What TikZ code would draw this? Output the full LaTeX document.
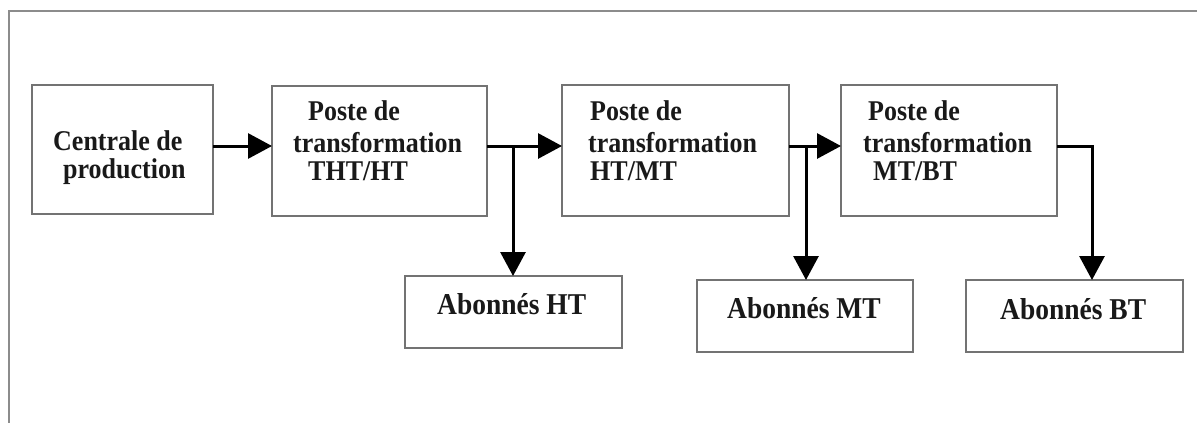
\documentclass[tikz,border=0pt]{standalone}
\usepackage{fontspec}
\usepackage{graphicx}
\setmainfont{Liberation Serif}
\usetikzlibrary{arrows.meta}
\newcommand{\tallt}[1]{\scalebox{1}[1.1]{#1}}
\tikzset{
  box/.style={draw=black!55, line width=1.5pt, inner sep=0pt, outer sep=0pt, fill=white},
  lbl/.style={anchor=base west, inner sep=0pt, font=\fontsize{26}{30}\selectfont\bfseries, text=black!90},
  albl/.style={anchor=base west, inner sep=0pt, font=\fontsize{27.5}{30}\selectfont\bfseries, text=black!90},
  arr/.style={line width=3pt, -{Triangle[length=24pt,width=25pt]}},
  frame/.style={draw=black!45, line width=1.5pt}
}
\begin{document}
\begin{tikzpicture}[x=1pt,y=-1pt]
\useasboundingbox (0,0) rectangle (1197,423);
\draw[frame] (1197,11) -- (9,11) -- (9,423);
% boxes
\node[box, minimum width=181pt, minimum height=129pt] (b1) at (122.5,149.5) {};
\node[box, minimum width=215pt, minimum height=130pt] (b2) at (379.5,151) {};
\node[box, minimum width=227pt, minimum height=131pt] (b3) at (675.5,150.5) {};
\node[box, minimum width=216pt, minimum height=131pt] (b4) at (949,150.5) {};
\node[box, minimum width=217pt, minimum height=72pt] (a1) at (513.5,312) {};
\node[box, minimum width=216pt, minimum height=72pt] (a2) at (805,316) {};
\node[box, minimum width=217pt, minimum height=72pt] (a3) at (1074.5,316) {};
% texts
\node[lbl] (t11) at (53,150) {\tallt{Centrale de}};
\node[lbl] (t12) at (63,178) {\tallt{production}};
\node[lbl] (t21) at (308,120) {\tallt{Poste de}};
\node[lbl] (t22) at (293,152) {\tallt{transformation}};
\node[lbl] (t23) at (308,180) {\tallt{THT/HT}};
\node[lbl] (t31) at (590,120) {\tallt{Poste de}};
\node[lbl] (t32) at (588,152) {\tallt{transformation}};
\node[lbl] (t33) at (590,180) {\tallt{HT/MT}};
\node[lbl] (t41) at (868,120) {\tallt{Poste de}};
\node[lbl] (t42) at (863,152) {\tallt{transformation}};
\node[lbl] (t43) at (873,180) {\tallt{MT/BT}};
\node[albl] (u1) at (437,314) {\tallt{Abonnés HT}};
\node[albl] (u2) at (727,318) {\tallt{Abonnés MT}};
\node[albl] (u3) at (1000,319) {\tallt{Abonnés BT}};
% connectors
\coordinate (y0) at (0,146);
\coordinate (j1) at (513,146);
\coordinate (j2) at (806,146);
\coordinate (j3) at (1092,146);
\draw[arr] (b1.east |- y0) -- (b2.west |- y0);
\draw[arr] (b2.east |- y0) -- (b3.west |- y0);
\draw[arr] (j1) -- (j1 |- a1.north);
\draw[arr] (b3.east |- y0) -- (b4.west |- y0);
\draw[arr] (j2) -- (j2 |- a2.north);
\draw[arr] (b4.east |- y0) -- (j3) -- (j3 |- a3.north);
\end{tikzpicture}
\end{document}
